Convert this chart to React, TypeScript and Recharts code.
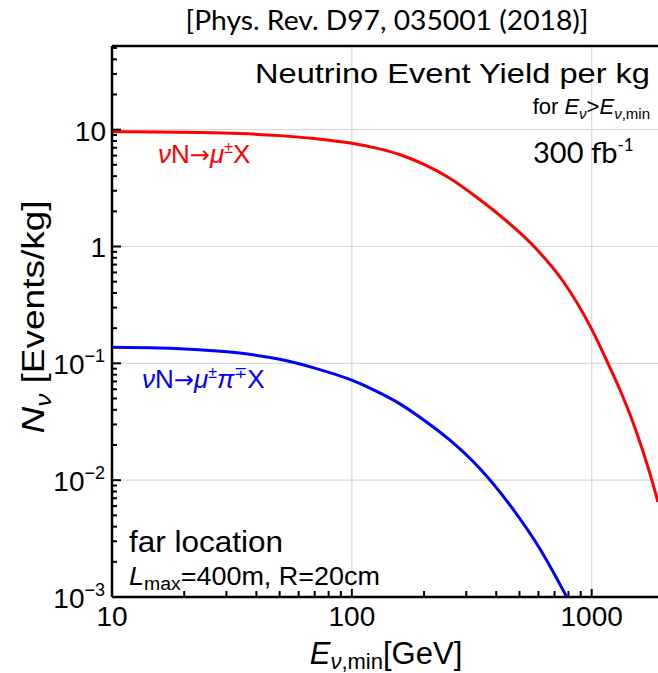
import { LineChart, Line, XAxis, YAxis, CartesianGrid, ReferenceLine } from 'recharts'

// energy threshold E_nu,min [GeV] and yields [events/kg]
const muonE = [10, 23, 34, 50, 70, 100, 125, 158, 200, 255, 340, 433, 567, 757, 1000, 1144, 1309, 1512, 1747, 1890]
const muonN = [9.6, 9.45, 9.26, 8.89, 8.39, 7.65, 6.98, 6.13, 5.04, 3.86, 2.54, 1.71, 1.03, 0.509, 0.196, 0.11, 0.06, 0.0284, 0.0115, 0.0065]

const pionE = [10, 15.7, 23, 34, 50, 70, 100, 125, 158, 200, 255, 340, 468, 607, 787]
const pionN = [0.137, 0.135, 0.1304, 0.1225, 0.1082, 0.091, 0.0717, 0.0584, 0.0452, 0.0326, 0.0222, 0.0127, 0.0057, 0.0026, 0.001]

const xTicks = [10, 20, 30, 40, 50, 60, 70, 80, 90, 100, 200, 300, 400, 500, 600, 700, 800, 900, 1000]
const xMajor = [10, 100, 1000]
const yTicks = [
  0.001, 0.002, 0.003, 0.004, 0.005, 0.006, 0.007, 0.008, 0.009,
  0.01, 0.02, 0.03, 0.04, 0.05, 0.06, 0.07, 0.08, 0.09,
  0.1, 0.2, 0.3, 0.4, 0.5, 0.6, 0.7, 0.8, 0.9,
  1, 2, 3, 4, 5, 6, 7, 8, 9, 10, 20, 30, 40, 50,
]
const yMajor = [0.001, 0.01, 0.1, 1, 10]
const yMajorBase = ['10', '10', '10', '1', '10']
const yMajorExp = ['−3', '−2', '−1', '', '']

const X_MIN = 10
const X_MAX = 1890
const Y_MIN = 0.001
const Y_MAX = 52

const W = 658
const H = 673
const PLOT_LEFT = 112
const PLOT_TOP = 46
const PLOT_BOTTOM = 597

const muonData = muonE.map((x, i) => ({ x, y: muonN[i] }))
const pionData = pionE.map((x, i) => ({ x, y: pionN[i] }))

const sans = 'Liberation Sans, Arial, sans-serif'
const calibriLike = 'Lato, "Open Sans", sans-serif'

const isMajor = (v: number, list: number[]) => list.some((m) => Math.abs(v - m) / m < 1e-6)

const XTick = (props: any) => {
  const { x, payload } = props
  const v = payload.value
  const major = isMajor(v, xMajor)
  return (
    <g>
      <line x1={x} x2={x} y1={PLOT_BOTTOM} y2={PLOT_BOTTOM - (major ? 8 : 6)} stroke="#000" strokeWidth={2} />
      {major && (
        <text x={x} y={PLOT_BOTTOM + 29} textAnchor="middle" fontSize={28} fill="#000" fontFamily={sans}>
          {String(v)}
        </text>
      )}
    </g>
  )
}

const YTick = (props: any) => {
  const { y, payload } = props
  const v = payload.value
  const idx = yMajor.findIndex((m) => Math.abs(v - m) / m < 1e-6)
  const major = idx >= 0
  return (
    <g>
      <line x1={PLOT_LEFT} x2={PLOT_LEFT + (major ? 9 : 5)} y1={y} y2={y} stroke="#000" strokeWidth={2} />
      {major && (
        <text x={yMajorExp[idx] ? 105 : 106} y={y + 11} textAnchor="end" fontSize={28} fill="#000" fontFamily={sans}>
          <tspan>{yMajorBase[idx]}</tspan>
          {yMajorExp[idx] && (
            <tspan fontSize={18} dy={-12}>{yMajorExp[idx]}</tspan>
          )}
        </text>
      )}
    </g>
  )
}

export default function App() {
  return (
    <div style={{ position: 'absolute', left: 0, top: 0, width: W, height: H, background: '#fff' }}>
      <LineChart width={W} height={H} margin={{ top: PLOT_TOP, right: 0, bottom: 0, left: 0 }}>
        <CartesianGrid horizontalValues={[0.01, 0.1, 1, 10]} verticalValues={[100, 1000]} stroke="#d9d9d9" strokeWidth={1.2} />
        <XAxis
          dataKey="x"
          type="number"
          scale="log"
          domain={[X_MIN, X_MAX]}
          allowDataOverflow
          ticks={xTicks}
          interval={0}
          height={H - PLOT_BOTTOM}
          axisLine={{ stroke: '#000', strokeWidth: 2.5 }}
          tickLine={false}
          tick={<XTick />}
        />
        <YAxis
          type="number"
          scale="log"
          domain={[Y_MIN, Y_MAX]}
          allowDataOverflow
          ticks={yTicks}
          interval={0}
          width={PLOT_LEFT}
          axisLine={{ stroke: '#000', strokeWidth: 2.5 }}
          tickLine={false}
          tick={<YTick />}
        />
        <ReferenceLine y={Y_MAX} stroke="#000" strokeWidth={2.5} />
        <Line data={muonData} dataKey="y" type="monotone" stroke="#ff0000" strokeWidth={3} dot={false} isAnimationActive={false} />
        <Line data={pionData} dataKey="y" type="monotone" stroke="#0000ff" strokeWidth={3} dot={false} isAnimationActive={false} />
      </LineChart>

      <svg width={W} height={H} style={{ position: 'absolute', left: 0, top: 0, pointerEvents: 'none' }}>
        <text x={387} y={30} textAnchor="middle" fontSize={27} fontFamily={calibriLike} fill="#000" textLength={403} lengthAdjust="spacingAndGlyphs">
          [Phys. Rev. D97, 035001 (2018)]
        </text>

        <text x={650} y={83} textAnchor="end" fontSize={28} fontFamily={sans} fill="#000" textLength={395} lengthAdjust="spacingAndGlyphs">
          Neutrino Event Yield per kg
        </text>
        <text x={650} y={114} textAnchor="end" fontSize={22} fontFamily={sans} fill="#000">
          for <tspan fontStyle="italic">E</tspan>
          <tspan fontStyle="italic" fontSize={15} dy={5}>ν</tspan>
          <tspan dy={-5}>&gt;</tspan>
          <tspan fontStyle="italic">E</tspan>
          <tspan fontSize={15} dy={5}><tspan fontStyle="italic">ν</tspan>,min</tspan>
        </text>
        <text x={533} y={163} fontSize={29} fontFamily={calibriLike} fill="#000">
          300 fb<tspan fontSize={17} dy={-12}>-1</tspan>
        </text>

        <text x={158} y={163} fontSize={26} fontFamily={sans} fill="#ff0000">
          <tspan fontStyle="italic">ν</tspan>N<tspan fontFamily="DejaVu Sans" fontSize={24}>→</tspan><tspan fontStyle="italic">μ</tspan>
          <tspan fontSize={16} dy={-10}>±</tspan>
          <tspan dy={10}>X</tspan>
        </text>
        <text x={142} y={388} fontSize={26} fontFamily={sans} fill="#0000ff">
          <tspan fontStyle="italic">ν</tspan>N<tspan fontFamily="DejaVu Sans" fontSize={24}>→</tspan><tspan fontStyle="italic">μ</tspan>
          <tspan fontSize={16} dy={-10}>±</tspan>
          <tspan dy={10} fontStyle="italic">π</tspan>
          <tspan fontSize={16} dy={-10}>∓</tspan>
          <tspan dy={10}>X</tspan>
        </text>

        <text x={129} y={552} fontSize={30} fontFamily={sans} fill="#000" textLength={154} lengthAdjust="spacingAndGlyphs">
          far location
        </text>
        <text x={129} y={585} fontSize={25} fontFamily={sans} fill="#000" textLength={251} lengthAdjust="spacingAndGlyphs">
          <tspan fontStyle="italic">L</tspan>
          <tspan fontSize={18} dy={5}>max</tspan>
          <tspan dy={-5}>=400m, R=20cm</tspan>
        </text>

        <text x={386} y={664} textAnchor="middle" fontSize={31} fontFamily={sans} fill="#000">
          <tspan fontStyle="italic">E</tspan>
          <tspan fontSize={22} dy={5}><tspan fontStyle="italic">ν</tspan>,min</tspan>
          <tspan dy={-5}>[GeV]</tspan>
        </text>

        <text transform="translate(44, 317) rotate(-90)" textAnchor="middle" fontSize={31} fontFamily={sans} fill="#000" textLength={233} lengthAdjust="spacingAndGlyphs">
          <tspan fontStyle="italic">N</tspan>
          <tspan fontStyle="italic" fontSize={22} dy={7}>ν</tspan>
          <tspan dy={-7}> [Events/kg]</tspan>
        </text>
      </svg>
    </div>
  )
}
